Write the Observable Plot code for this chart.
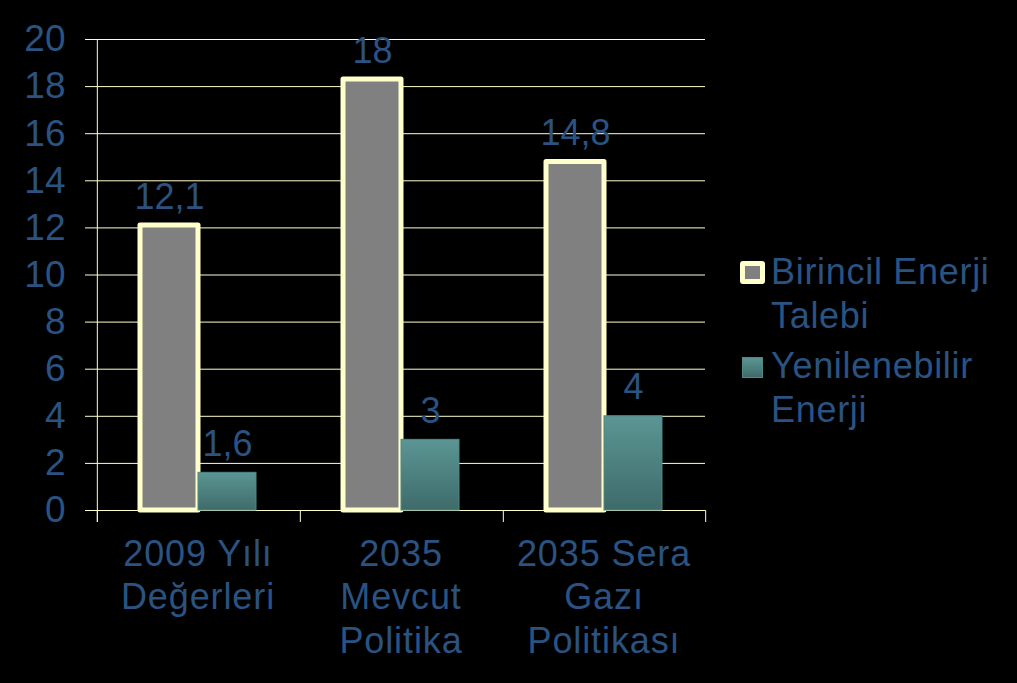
<!DOCTYPE html>
<html>
<head>
<meta charset="utf-8">
<script src="https://cdn.jsdelivr.net/npm/d3@7"></script>
<script src="https://cdn.jsdelivr.net/npm/@observablehq/plot@0.6"></script>
<style>
  html, body { margin: 0; padding: 0; background: #000; }
  #wrap { position: relative; width: 1017px; height: 683px; overflow: hidden; background: #000; }
  .legend { position: absolute; left: 0; top: 0; font-family: "Liberation Sans", Arial, sans-serif; font-size: 36px; color: #2a5382; line-height: 43.5px; letter-spacing: 0.7px; }
  .item { position: absolute; left: 771px; white-space: nowrap; }
  .mk { position: absolute; box-sizing: border-box; }
  .catlab text { letter-spacing: 0.9px; }
</style>
</head>
<body>
<div id="wrap"></div>
<script>
// ---- data ----
const categories = ["2009 Yılı\nDeğerleri", "2035\nMevcut\nPolitika", "2035 Sera\nGazı\nPolitikası"];
const seriesNames = ["Birincil Enerji Talebi", "Yenilenebilir Enerji"];
const birincil = [12.1, 18.3, 14.8];
const birincilLabels = ["12,1", "18", "14,8"];
const yenilenebilir = [1.6, 3, 4];
const yenilenebilirLabels = ["1,6", "3", "4"];
const yTicks = [0, 2, 4, 6, 8, 10, 12, 14, 16, 18, 20];
const legendLines = [["Birincil Enerji", "Talebi"], ["Yenilenebilir", "Enerji"]];

// ---- styles ----
const blue = "#2a5382";
const grid = "#ffffcc";
const W = 1017, H = 683, ML = 96, MR = 312, MT = 39, MB = 173;
const PO = 0.73;
const facetW = (W - ML - MR) / categories.length;
const step = facetW / (seriesNames.length + 2 * PO);
const edge = step * (PO + 0.5);

const rows = categories.flatMap((c, i) => [
  {cat: c, series: seriesNames[0], value: birincil[i], label: birincilLabels[i]},
  {cat: c, series: seriesNames[1], value: yenilenebilir[i], label: yenilenebilirLabels[i]}
]);
const rowsA = rows.filter(d => d.series === seriesNames[0]);
const rowsB = rows.filter(d => d.series === seriesNames[1]);

const chart = Plot.plot({
  width: W, height: H,
  marginLeft: ML, marginRight: MR, marginTop: MT, marginBottom: MB,
  style: {background: "#000", fontFamily: "'Liberation Sans', Arial, sans-serif", color: blue},
  fx: {domain: categories, padding: 0, label: null},
  x: {domain: seriesNames, paddingInner: 0, paddingOuter: PO, axis: null},
  y: {domain: [0, 20], axis: null},
  marks: [
    Plot.ruleY(yTicks, {stroke: grid, strokeWidth: 1}),
    Plot.axisY(yTicks, {tickSize: 11, tickPadding: 20, stroke: grid, fill: blue, fontSize: 37, label: null, tickFormat: d => String(d)}),
    Plot.ruleX([seriesNames[0]], {x: d => d, dx: -edge, stroke: grid, insetBottom: -12, facetAnchor: "left"}),
    Plot.ruleX([seriesNames[0]], {x: d => d, y1: 0, y2: 0, dx: -edge, stroke: grid, insetBottom: -12}),
    Plot.ruleX([seriesNames[1]], {x: d => d, y1: 0, y2: 0, dx: edge, stroke: grid, insetBottom: -12, facetAnchor: "right"}),
    Plot.barY(rowsA, {fx: "cat", x: "series", y: "value", fill: "#808080", stroke: grid, strokeWidth: 5, strokeLinejoin: "round"}),
    Plot.barY(rowsB, {fx: "cat", x: "series", y: "value", fill: "url(#tealGrad)", stroke: "#4f8886", strokeWidth: 1}),
    Plot.text(rows, {fx: "cat", x: "series", y: "value", text: "label", lineAnchor: "bottom", dy: -17, fill: blue, fontSize: 36}),
    Plot.axisFx({anchor: "bottom", tickSize: 0, tickPadding: 25, fontSize: 36, lineHeight: 1.2, fill: blue, label: null, className: "catlab"})
  ]
});

chart.insertAdjacentHTML("afterbegin",
  '<defs><linearGradient id="tealGrad" x1="0" y1="0" x2="0" y2="1">' +
  '<stop offset="0" stop-color="#5b9694"/><stop offset="1" stop-color="#3e6b6a"/></linearGradient></defs>');

const wrap = document.getElementById("wrap");
wrap.appendChild(chart);

// ---- legend ----
const legend = document.createElement("div");
legend.className = "legend";
legend.innerHTML =
  '<div class="mk" style="left:740px;top:261px;width:25px;height:23px;background:#808080;border:5px solid ' + grid + ';border-radius:3px"></div>' +
  '<div class="item" style="top:250px"></div>' +
  '<div class="mk" style="left:742px;top:357px;width:21px;height:21px;background:linear-gradient(#5b9694,#3e6b6a);border:1px solid #4f8886"></div>' +
  '<div class="item" style="top:344px"></div>';
legend.querySelectorAll(".item").forEach((el, i) => {
  legendLines[i].forEach((line, j) => {
    if (j) el.appendChild(document.createElement("br"));
    el.appendChild(document.createTextNode(line));
  });
});
wrap.appendChild(legend);
</script>
</body>
</html>
